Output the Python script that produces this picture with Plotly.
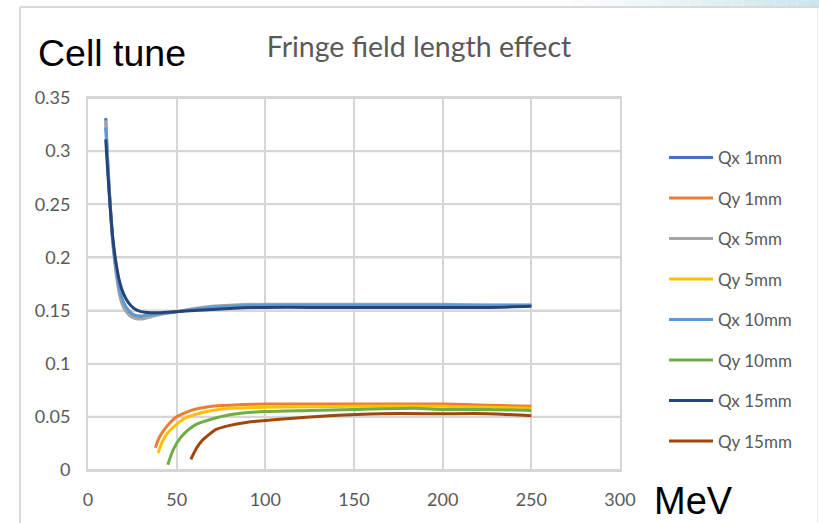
import plotly.graph_objects as go

# Beam energy (MeV) sample points and cell tunes for each fringe field length
qx_energy = [10, 11, 12, 13, 14, 16, 18, 20, 23, 26, 30, 35, 40, 50, 60, 70, 80,
             100, 125, 150, 175, 200, 225, 250]
qx_1mm = [0.331, 0.295, 0.265, 0.238, 0.216, 0.187, 0.168, 0.157, 0.149, 0.145, 0.144,
          0.145, 0.147, 0.149, 0.151, 0.153, 0.154, 0.155, 0.155, 0.155, 0.155, 0.155,
          0.155, 0.155]
qx_5mm = [0.329, 0.292, 0.262, 0.235, 0.212, 0.183, 0.163, 0.153, 0.146, 0.143, 0.142,
          0.144, 0.146, 0.149, 0.152, 0.154, 0.155, 0.156, 0.156, 0.156, 0.156, 0.156,
          0.155, 0.155]
qx_10mm = [0.322, 0.290, 0.262, 0.237, 0.216, 0.188, 0.169, 0.158, 0.150, 0.146, 0.145,
           0.146, 0.147, 0.149, 0.151, 0.153, 0.154, 0.155, 0.155, 0.155, 0.155, 0.155,
           0.155, 0.155]
qx_15mm = [0.311, 0.284, 0.259, 0.237, 0.218, 0.193, 0.176, 0.166, 0.157, 0.152, 0.149,
           0.148, 0.148, 0.149, 0.150, 0.151, 0.152, 0.153, 0.153, 0.153, 0.153, 0.153,
           0.153, 0.154]

qy1_energy = [38, 40, 43, 46, 50, 55, 60, 70, 80, 100, 150, 200, 225, 250]
qy_1mm = [0.021, 0.030, 0.038, 0.044, 0.050, 0.054, 0.057, 0.060, 0.061, 0.062, 0.062,
          0.062, 0.061, 0.060]
qy5_energy = [39.5, 42, 45, 50, 55, 60, 70, 80, 100, 150, 200, 225, 250]
qy_5mm = [0.016, 0.027, 0.035, 0.043, 0.049, 0.052, 0.056, 0.058, 0.059, 0.060, 0.060,
          0.059, 0.058]
qy10_energy = [45, 48, 52, 56, 61, 70, 80, 100, 125, 150, 185, 200, 225, 250]
qy_10mm = [0.005, 0.019, 0.030, 0.037, 0.043, 0.048, 0.052, 0.055, 0.056, 0.057, 0.058,
           0.057, 0.057, 0.056]
qy15_energy = [58, 61, 64, 68, 72, 80, 90, 110, 136, 165, 200, 225, 250]
qy_15mm = [0.010, 0.020, 0.027, 0.033, 0.038, 0.042, 0.045, 0.048, 0.051, 0.053, 0.053,
           0.053, 0.051]

x_ticks = [0, 50, 100, 150, 200, 250, 300]
y_ticks = [0, 0.05, 0.1, 0.15, 0.2, 0.25, 0.3, 0.35]
y_tick_text = ["0", "0.05", "0.1", "0.15", "0.2", "0.25", "0.3", "0.35"]

series = [
    ("Qx 1mm", qx_energy, qx_1mm, "#4472C4"),
    ("Qy 1mm", qy1_energy, qy_1mm, "#ED7D31"),
    ("Qx 5mm", qx_energy, qx_5mm, "#A5A5A5"),
    ("Qy 5mm", qy5_energy, qy_5mm, "#FFC000"),
    ("Qx 10mm", qx_energy, qx_10mm, "#5B9BD5"),
    ("Qy 10mm", qy10_energy, qy_10mm, "#70AD47"),
    ("Qx 15mm", qx_energy, qx_15mm, "#264478"),
    ("Qy 15mm", qy15_energy, qy_15mm, "#9E480E"),
]

W, H = 819, 523
L, R, T, B = 88, 199, 98, 53
pw, ph = W - L - R, H - T - B


def px(xp):
    return (xp - L) / pw


def py(yp):
    return (H - B - yp) / ph


fig = go.Figure()
for name, ex, ey, col in series:
    fig.add_trace(go.Scatter(
        x=ex, y=ey, name=name, mode="lines", legendgroup=name,
        line=dict(color=col, width=3, shape="spline", smoothing=0.6),
    ))

tick_font = dict(family="Lato", size=18, color="#595959")
grid = "#d6d6d6"

fig.update_layout(
    width=W, height=H,
    margin=dict(l=L, r=R, t=T, b=B, autoexpand=False),
    paper_bgcolor="white", plot_bgcolor="white",
    title=dict(text="Fringe field length effect", x=px(419), xref="paper",
               xanchor="center", y=1 - 47 / H, yref="container", yanchor="middle",
               font=dict(family="Lato", size=28.5, color="#595959")),
    xaxis=dict(range=[0, 300], tickvals=x_ticks, showgrid=True, gridcolor=grid,
               gridwidth=2, showline=True, mirror=True, linecolor=grid, linewidth=2,
               zeroline=False, ticks="outside", ticklen=12,
               tickcolor="rgba(0,0,0,0)", tickfont=tick_font, fixedrange=True),
    yaxis=dict(range=[0, 0.35], tickvals=y_ticks, ticktext=y_tick_text,
               showgrid=True, gridcolor=grid, gridwidth=2, showline=True, mirror=True,
               linecolor=grid, linewidth=2, zeroline=False, ticks="outside",
               ticklen=12, tickcolor="rgba(0,0,0,0)", tickfont=tick_font,
               fixedrange=True),
    legend=dict(x=px(664), y=py(140), xanchor="left", yanchor="top",
                font=dict(family="Lato", size=17, color="#595959"),
                tracegroupgap=15.4, itemwidth=44, bgcolor="rgba(0,0,0,0)"),
    showlegend=True,
)

# horizontal grid at each y tick, placed through the y axis scale
for v in y_ticks:
    fig.add_shape(type="line", xref="paper", yref="y", x0=0, x1=1, y0=v, y1=v,
                  line=dict(color=grid, width=2), layer="below")

# axis captions
fig.add_annotation(text="Cell tune", xref="paper", yref="paper", x=px(36), y=py(53),
                   xanchor="left", yanchor="middle", showarrow=False,
                   font=dict(family="Liberation Sans", size=37.5, color="black"))
fig.add_annotation(text="MeV", xref="paper", yref="paper", x=px(652), y=py(501),
                   xanchor="left", yanchor="middle", showarrow=False,
                   font=dict(family="Liberation Sans", size=38, color="black"))

# slide frame: light border and tinted strip along the top edge
frame = "#d9d9d9"
fig.add_shape(type="line", xref="paper", yref="paper", x0=px(20), x1=px(20),
              y0=py(7), y1=py(H), line=dict(color=frame, width=2), layer="above")
fig.add_shape(type="line", xref="paper", yref="paper", x0=px(20), x1=px(W),
              y0=py(7), y1=py(7), line=dict(color=frame, width=2), layer="above")
fig.add_shape(type="line", xref="paper", yref="paper", x0=px(817.5), x1=px(817.5),
              y0=py(7), y1=py(H), line=dict(color="#ececec", width=1), layer="above")
steps = 24
x_start = 560
for i in range(steps):
    t = i / (steps - 1)
    r = int(255 + (205 - 255) * t)
    g = int(255 + (230 - 255) * t)
    b = int(255 + (238 - 255) * t)
    xa = x_start + (W - x_start) * i / steps
    xb = x_start + (W - x_start) * (i + 1) / steps
    fig.add_shape(type="rect", xref="paper", yref="paper", x0=px(xa), x1=px(xb),
                  y0=py(0), y1=py(6), line=dict(width=0),
                  fillcolor=f"rgb({r},{g},{b})", layer="above")

fig.write_html("out.html")
